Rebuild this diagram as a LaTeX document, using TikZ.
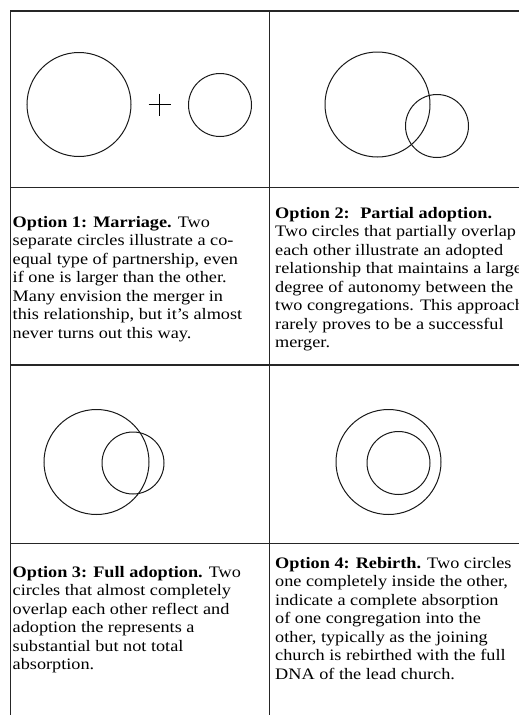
\documentclass[tikz,border=0pt]{standalone}
\usepackage{fontspec}
\setmainfont{Liberation Serif}[FakeStretch=1.14]
\begin{document}
\begin{tikzpicture}[x=1pt,y=-1pt,
  grid/.style={line width=1.3pt, draw=black!85},
  ring/.style={line width=1pt, draw=black!90},
  txt/.style={anchor=base west, inner sep=0pt, font=\fontsize{16}{18.5}\selectfont}]
\useasboundingbox (0,0) rectangle (519,715);
\clip (0,0) rectangle (519,715);
% table grid
\draw[grid] (10.5,716) -- (10.5,11) -- (530,11);
\draw[grid] (269.3,11) -- (269.3,716);
\foreach \yy in {187.5,365,543.3} \draw[grid] (10.5,\yy) -- (530,\yy);
% option 1
\draw[ring] (79,104.5) circle[radius=52];
\draw[ring] (220,105) circle[radius=31.5];
\draw[line width=0.9pt] (148.5,104.5) -- (170.5,104.5) (159.5,93.5) -- (159.5,115.5);
% option 2
\draw[ring] (377.5,104.5) circle[radius=52.5];
\draw[ring] (437,126) circle[radius=31.5];
% option 3
\draw[ring] (96.5,462) circle[radius=52.5];
\draw[ring] (133,463) circle[radius=31];
% option 4
\draw[ring] (388.5,462) circle[radius=52.5];
\draw[ring] (398.5,463) circle[radius=31.5];
% texts
\node[txt] (t1) at (12.5,227) {\begin{tabular}[t]{@{}l@{}}
\textbf{Option 1: Marriage.} Two\\
separate circles illustrate a co-\\
equal type of partnership, even\\
if one is larger than the other.\\
Many envision the merger in\\
this relationship, but it’s almost\\
never turns out this way.
\end{tabular}};
\node[txt] (t2) at (275,218) {\begin{tabular}[t]{@{}l@{}}
\textbf{Option 2:~ Partial adoption.}\\
Two circles that partially overlap\\
each other illustrate an adopted\\
relationship that maintains a large\\
degree of autonomy between the\\
two congregations. This approach\\
rarely proves to be a successful\\
merger.
\end{tabular}};
\node[txt] (t3) at (12.5,577) {\begin{tabular}[t]{@{}l@{}}
\textbf{Option 3: Full adoption.} Two\\
circles that almost completely\\
overlap each other reflect and\\
adoption the represents a\\
substantial but not total\\
absorption.
\end{tabular}};
\node[txt] (t4) at (275,568) {\begin{tabular}[t]{@{}l@{}}
\textbf{Option 4: Rebirth.} Two circles\\
one completely inside the other,\\
indicate a complete absorption\\
of one congregation into the\\
other, typically as the joining\\
church is rebirthed with the full\\
DNA of the lead church.
\end{tabular}};
\end{tikzpicture}
\end{document}
